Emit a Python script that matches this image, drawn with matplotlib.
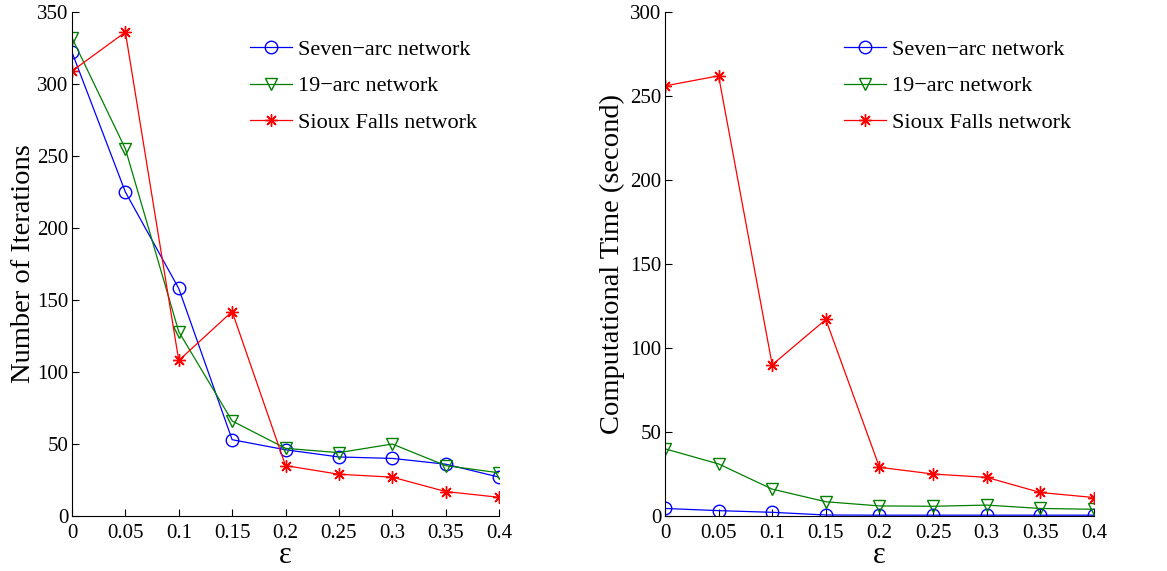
import matplotlib.pyplot as plt
import numpy as np

plt.rcParams['font.family'] = ['Liberation Serif', 'DejaVu Serif']

eps = [0, 0.05, 0.1, 0.15, 0.2, 0.25, 0.3, 0.35, 0.4]
eps_labels = ['0', '0.05', '0.1', '0.15', '0.2', '0.25', '0.3', '0.35', '0.4']

# number of iterations
iter_seven = [322, 225, 158, 53, 46, 41, 40, 36, 27]
iter_19 = [332, 255, 128, 66, 47, 44, 50, 35, 30]
iter_sioux = [309, 336, 108, 142, 35, 29, 27, 17, 13]

# computational time (s)
time_seven = [4.5, 3.2, 2.2, 0.6, 0.5, 0.5, 0.5, 0.5, 0.5]
time_19 = [40, 31, 16, 8.5, 6, 5.8, 6.5, 4.5, 4]
time_sioux = [256, 262, 90, 117, 29, 25, 23, 14, 11]

names = ['Seven\u2212arc network', '19\u2212arc network', 'Sioux Falls network']
colors = ['#0000ff', '#008000', '#ff0000']
markers = ['o', 'v', (8, 2, 0)]

fig = plt.figure(figsize=(11.67, 5.71), dpi=100)
ax1 = fig.add_axes([0.0617, 0.0963, 0.3659, 0.8827])
ax2 = fig.add_axes([0.5698, 0.0963, 0.3676, 0.8827])


def draw(ax, series, ymax, ylabel, ylabelpad):
    for vals, name, c, m in zip(series, names, colors, markers):
        ax.plot(eps, vals, color=c, marker=m, markersize=9, markerfacecolor='none',
                markeredgecolor=c, linewidth=0.9, label=name)
    ax.set_xlim(0, 0.4)
    ax.set_ylim(0, ymax)
    ax.set_xticks(eps)
    ax.set_xticklabels(eps_labels)
    ax.set_yticks(np.arange(0, ymax + 1, 50))
    ax.tick_params(direction='in', length=5, labelsize=15, width=0.8)
    ax.tick_params(axis='x', pad=6)
    ax.tick_params(axis='y', pad=2.5)
    ax.spines['top'].set_visible(False)
    ax.spines['right'].set_visible(False)
    ax.set_xlabel('\u03b5', fontsize=22, labelpad=-2)
    ax.set_ylabel(ylabel, fontsize=20.5, labelpad=ylabelpad)
    ax.legend(loc='upper left', bbox_to_anchor=(0.417, 0.946), frameon=False,
              fontsize=16, handlelength=1.9, handletextpad=0.25, labelspacing=0.72,
              borderaxespad=0, borderpad=0)


draw(ax1, [iter_seven, iter_19, iter_sioux], 350, 'Number of Iterations', 1)
draw(ax2, [time_seven, time_19, time_sioux], 300, 'Computational Time (second)', 4)

fig.savefig('out.png')
